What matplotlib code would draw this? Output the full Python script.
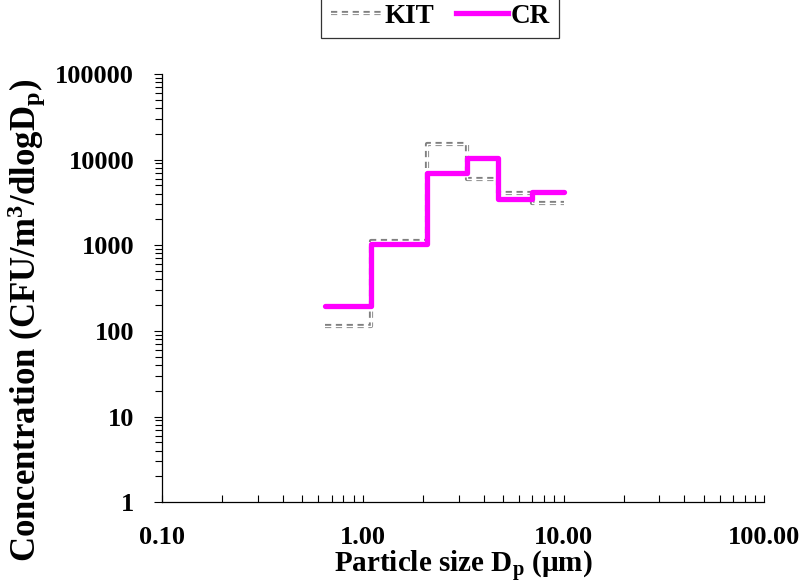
import matplotlib
matplotlib.use("Agg")
import matplotlib.pyplot as plt
from matplotlib.lines import Line2D
from matplotlib.legend_handler import HandlerTuple
from matplotlib.ticker import LogLocator, FixedLocator, FixedFormatter, NullFormatter

plt.rcParams['font.family'] = ['Liberation Serif', 'DejaVu Serif']
plt.rcParams['font.weight'] = 'bold'
plt.rcParams['mathtext.fontset'] = 'custom'
plt.rcParams['mathtext.rm'] = 'Liberation Serif:bold'
plt.rcParams['mathtext.it'] = 'Liberation Serif:bold'
plt.rcParams['mathtext.bf'] = 'Liberation Serif:bold'
plt.rcParams['mathtext.default'] = 'rm'

# stage edges of the impactor (um)
edges = [0.65, 1.1, 2.1, 3.3, 4.7, 7.0, 10.0]
# concentration per stage (CFU/m3/dlogDp)
kit = [114, 1130, 15200, 5900, 4040, 3090]
cr = [196, 1030, 7030, 10500, 3470, 4220]

x_ticks = [0.1, 1, 10, 100]
x_labels = ['0.10', '1.00', '10.00', '100.00']
y_ticks = [1, 10, 100, 1000, 10000, 100000]
y_labels = ['1', '10', '100', '1000', '10000', '100000']

grey = '#808080'
kit_dash = (0, (1.5, 1.1))

fig = plt.figure(figsize=(8.02, 5.86), dpi=100)
ax = fig.add_axes([0.202, 0.143, 0.751, 0.731])

kit_y = kit + [kit[-1]]
cr_y = cr + [cr[-1]]

# KIT: double-stroke dashed grey line (grey dashes with a white core)
ax.step(edges, kit_y, where='post', color=grey, lw=3.0, ls=kit_dash, dash_capstyle='butt')
ax.step(edges, kit_y, where='post', color='white', lw=1.0)
# CR: thick magenta line
ax.step(edges, cr_y, where='post', color='#ff00ff', lw=3.8, solid_capstyle='round')

ax.set_xscale('log')
ax.set_yscale('log')
ax.set_xlim(0.1, 100)
ax.set_ylim(1, 100000)

ax.xaxis.set_major_locator(FixedLocator(x_ticks))
ax.xaxis.set_major_formatter(FixedFormatter(x_labels))
ax.yaxis.set_major_locator(FixedLocator(y_ticks))
ax.yaxis.set_major_formatter(FixedFormatter(y_labels))
ax.xaxis.set_minor_locator(LogLocator(base=10, subs=range(2, 10)))
ax.yaxis.set_minor_locator(LogLocator(base=10, subs=range(2, 10)))
ax.xaxis.set_minor_formatter(NullFormatter())
ax.yaxis.set_minor_formatter(NullFormatter())

ax.tick_params(axis='x', which='both', direction='in', length=5, width=0.8, pad=17, labelsize=19)
ax.tick_params(axis='y', which='major', direction='out', length=6, width=0.8, pad=14, labelsize=19)
ax.tick_params(axis='y', which='minor', direction='out', length=5, width=0.8)

for s in ['top', 'right']:
    ax.spines[s].set_visible(False)
for s in ['left', 'bottom']:
    ax.spines[s].set_linewidth(0.9)

ax.set_xlabel('Particle size D$_\\mathrm{p}$ (\u00b5m)', fontsize=21, fontweight='bold', labelpad=0)
ax.set_ylabel('Concentration (CFU/m$^3$/dlogD$_\\mathrm{p}$)', fontsize=25, fontweight='bold')
ax.yaxis.set_label_coords(-0.19, 0.425)

kit_h = (Line2D([], [], color=grey, lw=3.0, ls=kit_dash, dash_capstyle='butt'),
         Line2D([], [], color='white', lw=1.0))
cr_h = Line2D([], [], color='#ff00ff', lw=3.8)
leg = fig.legend([kit_h, cr_h], ['KIT', 'CR'], loc='lower center', bbox_to_anchor=(0.549, 0.935),
                 ncol=2, fontsize=19.5, frameon=True, fancybox=False, handlelength=1.9,
                 handletextpad=0.1, columnspacing=0.8, borderpad=0.35, borderaxespad=0,
                 handler_map={tuple: HandlerTuple(ndivide=1, pad=0)})
leg.get_frame().set_edgecolor('black')
leg.get_frame().set_linewidth(0.9)

fig.savefig('out.png', dpi=100)
